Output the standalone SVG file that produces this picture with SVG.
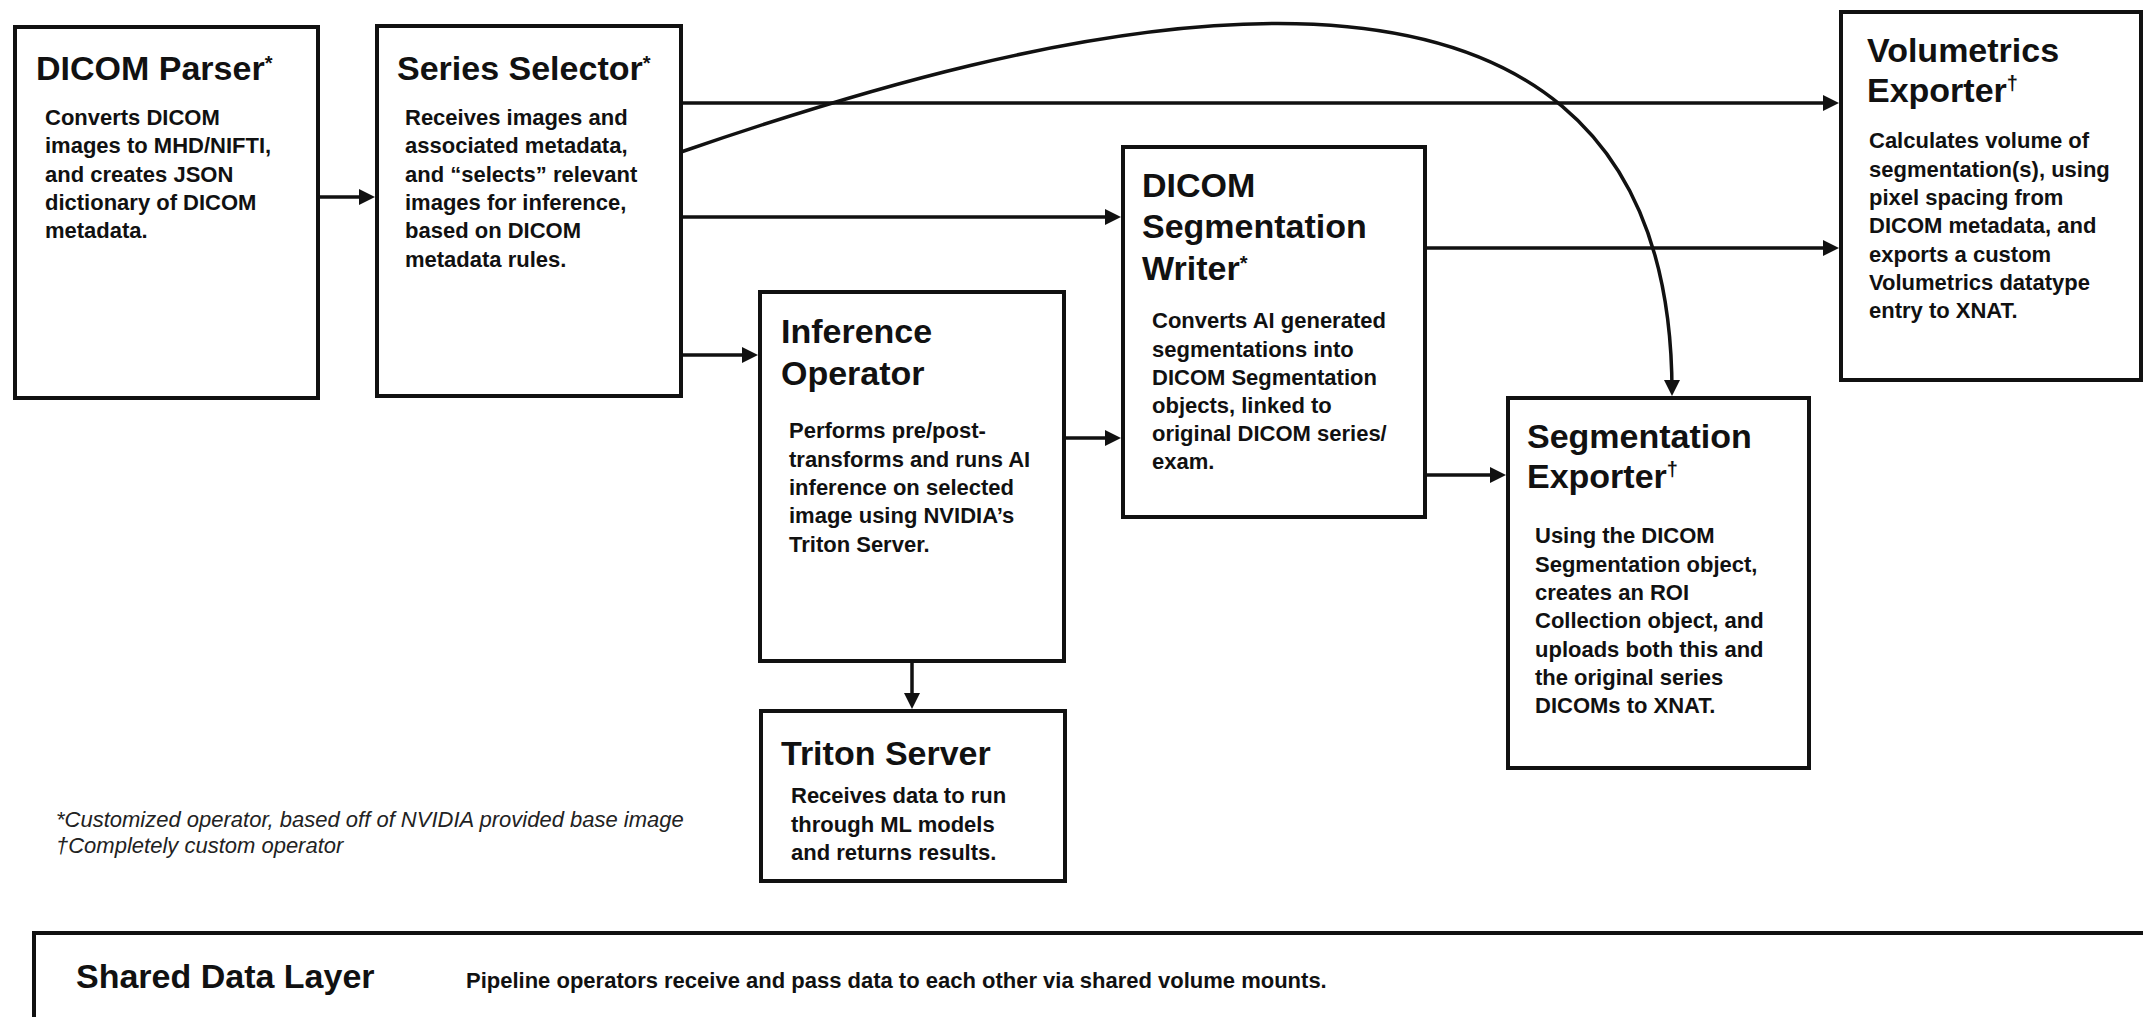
<svg xmlns="http://www.w3.org/2000/svg" width="2143" height="1017" viewBox="0 0 2143 1017">
<style>
.box{fill:#fff;stroke:#111;stroke-width:4}
.title{font-family:"Liberation Sans",Arial,sans-serif;font-weight:bold;font-size:34px;fill:#111}
.body{font-family:"Liberation Sans",Arial,sans-serif;font-weight:bold;font-size:22px;fill:#111}
.note{font-family:"Liberation Sans",Arial,sans-serif;font-style:italic;font-size:22px;fill:#222}
.sup{font-size:20px}
.conn{fill:none;stroke:#111;stroke-width:3.5;marker-end:url(#ah)}
</style>
<defs>
<marker id="ah" markerUnits="userSpaceOnUse" markerWidth="18" markerHeight="18" refX="12" refY="9" orient="auto">
<path d="M0,1 L16,9 L0,17 z" fill="#111"/>
</marker>
</defs>
<rect width="2143" height="1017" fill="#fff"/>

<g id="dicom-parser">
<rect class="box" x="15" y="27" width="303" height="371"/>
<text class="title" x="36" y="80">DICOM Parser<tspan class="sup" dy="-10">*</tspan></text>
<text class="body" x="45" y="125">Converts DICOM</text>
<text class="body" x="45" y="153">images to MHD/NIFTI,</text>
<text class="body" x="45" y="182">and creates JSON</text>
<text class="body" x="45" y="210">dictionary of DICOM</text>
<text class="body" x="45" y="238">metadata.</text>
</g>

<g id="series-selector">
<rect class="box" x="377" y="26" width="304" height="370"/>
<text class="title" x="397" y="80">Series Selector<tspan class="sup" dy="-10">*</tspan></text>
<text class="body" x="405" y="125">Receives images and</text>
<text class="body" x="405" y="153">associated metadata,</text>
<text class="body" x="405" y="182">and “selects” relevant</text>
<text class="body" x="405" y="210">images for inference,</text>
<text class="body" x="405" y="238">based on DICOM</text>
<text class="body" x="405" y="267">metadata rules.</text>
</g>

<g id="volumetrics-exporter">
<rect class="box" x="1841" y="12" width="300" height="368"/>
<text class="title" x="1867" y="62">Volumetrics</text>
<text class="title" x="1867" y="102">Exporter<tspan class="sup" dy="-12">†</tspan></text>
<text class="body" x="1869" y="148">Calculates volume of</text>
<text class="body" x="1869" y="177">segmentation(s), using</text>
<text class="body" x="1869" y="205">pixel spacing from</text>
<text class="body" x="1869" y="233">DICOM metadata, and</text>
<text class="body" x="1869" y="262">exports a custom</text>
<text class="body" x="1869" y="290">Volumetrics datatype</text>
<text class="body" x="1869" y="318">entry to XNAT.</text>
</g>

<g id="dicom-segmentation-writer">
<rect class="box" x="1123" y="147" width="302" height="370"/>
<text class="title" x="1142" y="197">DICOM</text>
<text class="title" x="1142" y="238">Segmentation</text>
<text class="title" x="1142" y="280">Writer<tspan class="sup" dy="-10">*</tspan></text>
<text class="body" x="1152" y="328">Converts AI generated</text>
<text class="body" x="1152" y="357">segmentations into</text>
<text class="body" x="1152" y="385">DICOM Segmentation</text>
<text class="body" x="1152" y="413">objects, linked to</text>
<text class="body" x="1152" y="441">original DICOM series/</text>
<text class="body" x="1152" y="469">exam.</text>
</g>

<g id="inference-operator">
<rect class="box" x="760" y="292" width="304" height="369"/>
<text class="title" x="781" y="343">Inference</text>
<text class="title" x="781" y="385">Operator</text>
<text class="body" x="789" y="438">Performs pre/post-</text>
<text class="body" x="789" y="467">transforms and runs AI</text>
<text class="body" x="789" y="495">inference on selected</text>
<text class="body" x="789" y="523">image using NVIDIA’s</text>
<text class="body" x="789" y="552">Triton Server.</text>
</g>

<g id="segmentation-exporter">
<rect class="box" x="1508" y="398" width="301" height="370"/>
<text class="title" x="1527" y="448">Segmentation</text>
<text class="title" x="1527" y="488">Exporter<tspan class="sup" dy="-12">†</tspan></text>
<text class="body" x="1535" y="543">Using the DICOM</text>
<text class="body" x="1535" y="572">Segmentation object,</text>
<text class="body" x="1535" y="600">creates an ROI</text>
<text class="body" x="1535" y="628">Collection object, and</text>
<text class="body" x="1535" y="657">uploads both this and</text>
<text class="body" x="1535" y="685">the original series</text>
<text class="body" x="1535" y="713">DICOMs to XNAT.</text>
</g>

<g id="triton-server">
<rect class="box" x="761" y="711" width="304" height="170"/>
<text class="title" x="781" y="765">Triton Server</text>
<text class="body" x="791" y="803">Receives data to run</text>
<text class="body" x="791" y="832">through ML models</text>
<text class="body" x="791" y="860">and returns results.</text>
</g>

<g id="footnotes">
<text class="note" x="56" y="827">*Customized operator, based off of NVIDIA provided base image</text>
<text class="note" x="56" y="853">†Completely custom operator</text>
</g>

<g id="shared-data-layer">
<rect class="box" x="34" y="933" width="2200" height="200"/>
<text class="title" x="76" y="988">Shared Data Layer</text>
<text class="body" x="466" y="988">Pipeline operators receive and pass data to each other via shared volume mounts.</text>
</g>

<g id="connectors">
<path class="conn" d="M318,197 H371"/>
<path class="conn" d="M681,103 H1835"/>
<path class="conn" d="M681,217 H1117"/>
<path class="conn" d="M681,355 H754"/>
<path class="conn" d="M1064,438 H1117"/>
<path class="conn" d="M1425,248 H1835"/>
<path class="conn" d="M1425,475 H1502"/>
<path class="conn" d="M912,661 V705"/>
<path class="conn" d="M681,152 C1000,42 1672,-160 1672,392"/>
</g>
</svg>
